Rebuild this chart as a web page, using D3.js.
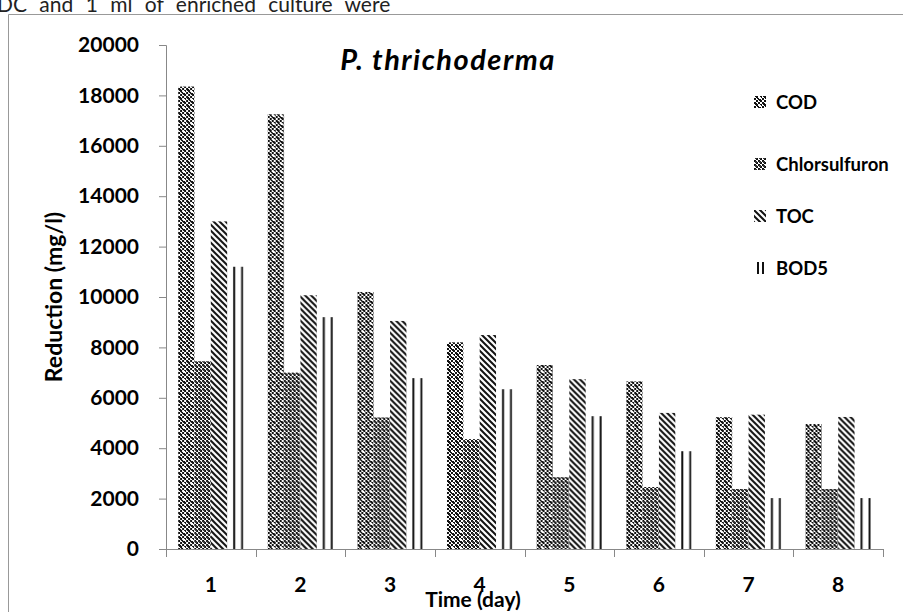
<!DOCTYPE html>
<html>
<head>
<meta charset="utf-8">
<script src="https://cdn.jsdelivr.net/npm/d3@7"></script>
<style>
  body { margin: 0; background: #fff; }
  svg { display: block; font-family: Lato, "Open Sans", sans-serif; }
</style>
</head>
<body>
<svg id="chart" width="903" height="612"></svg>
<script>
const days = ["1", "2", "3", "4", "5", "6", "7", "8"];
const series = ["COD", "Chlorsulfuron", "TOC", "BOD5"];
const cod = [18350, 17250, 10200, 8200, 7300, 6650, 5230, 4960];
const chlorsulfuron = [7450, 7000, 5220, 4360, 2850, 2460, 2380, 2380];
const toc = [13000, 10070, 9050, 8490, 6740, 5400, 5330, 5240];
const bod5 = [11200, 9200, 6780, 6340, 5270, 3880, 2020, 2020];
const yTicks = [0, 2000, 4000, 6000, 8000, 10000, 12000, 14000, 16000, 18000, 20000];

const values = { COD: cod, Chlorsulfuron: chlorsulfuron, TOC: toc, BOD5: bod5 };

const svg = d3.select("#chart");
const defs = svg.append("defs");

// COD: checker with white crosses
const pCod = defs.append("pattern").attr("id", "p-cod")
    .attr("patternUnits", "userSpaceOnUse").attr("width", 8).attr("height", 8);
pCod.append("rect").attr("width", 8).attr("height", 8).attr("fill", "#fff");
[[0,0],[2,2],[4,0],[6,2],[0,4],[2,6],[4,4],[6,6],[1,1],[5,5],[3,3],[7,7]].forEach(([x, y]) => {
    pCod.append("rect").attr("x", x).attr("y", y).attr("width", 2).attr("height", 2).attr("fill", "#111");
});
pCod.append("rect").attr("x", 5).attr("y", 2).attr("width", 1).attr("height", 3).attr("fill", "#fff");
pCod.append("rect").attr("x", 4).attr("y", 3).attr("width", 3).attr("height", 1).attr("fill", "#fff");

// Chlorsulfuron: plain fine checker, a bit darker
const pChl = defs.append("pattern").attr("id", "p-chl")
    .attr("patternUnits", "userSpaceOnUse").attr("width", 4).attr("height", 4);
pChl.append("rect").attr("width", 4).attr("height", 4).attr("fill", "#fff");
pChl.append("rect").attr("x", 0).attr("y", 0).attr("width", 2).attr("height", 2).attr("fill", "#111");
pChl.append("rect").attr("x", 2).attr("y", 2).attr("width", 2).attr("height", 2).attr("fill", "#111");
pChl.append("rect").attr("x", 1).attr("y", 1).attr("width", 2).attr("height", 2).attr("fill", "#333");

// TOC: wide downward diagonal
const pToc = defs.append("pattern").attr("id", "p-toc")
    .attr("patternUnits", "userSpaceOnUse").attr("width", 6).attr("height", 6);
pToc.append("rect").attr("width", 6).attr("height", 6).attr("fill", "#fff");
pToc.append("path").attr("d", "M-1,-1L7,7M-1,5L1,7M5,-1L7,1")
    .attr("stroke", "#111").attr("stroke-width", 2);

// BOD5: two vertical lines per bar
function bodPattern(id, a, b) {
    const p = defs.append("pattern").attr("id", id)
        .attr("patternUnits", "objectBoundingBox").attr("width", 1).attr("height", 1);
    p.append("rect").attr("width", 20).attr("height", 600).attr("fill", "#fff");
    p.append("rect").attr("x", a).attr("width", 2).attr("height", 600).attr("fill", "#111");
    p.append("rect").attr("x", b).attr("width", 2).attr("height", 600).attr("fill", "#111");
}
bodPattern("p-bod", 6, 14);
bodPattern("p-bod-leg", 3, 8);

const fills = { COD: "url(#p-cod)", Chlorsulfuron: "url(#p-chl)", TOC: "url(#p-toc)", BOD5: "url(#p-bod)" };
const legendFills = Object.assign({}, fills, { BOD5: "url(#p-bod-leg)" });

// text cut at top of page
svg.append("text").attr("x", -3).attr("y", 12)
    .attr("font-family", "Lato, sans-serif").attr("font-size", 21).attr("fill", "#222")
    .attr("word-spacing", 7)
    .text("DC and 1 ml of enriched culture were");

// chart frame
svg.append("path").attr("d", "M8.5,612V14.5H903")
    .attr("fill", "none").attr("stroke", "#999").attr("stroke-width", 1);

const x0 = d3.scaleBand().domain(days).range([166, 883]).paddingInner(0.27).paddingOuter(0.135);
const x1 = d3.scaleBand().domain(series).range([0, x0.bandwidth()]);
const y = d3.scaleLinear().domain([0, 20000]).range([549, 45]);

// bars
const groups = svg.append("g").selectAll("g").data(days).join("g")
    .attr("transform", d => `translate(${x0(d)},0)`);
groups.selectAll("rect")
    .data((d, i) => series.map(s => ({ s, v: values[s][i] })))
    .join("rect")
    .attr("x", d => x1(d.s))
    .attr("y", d => y(d.v))
    .attr("width", x1.bandwidth())
    .attr("height", d => y(0) - y(d.v))
    .attr("fill", d => fills[d.s]);

// y axis
const yAxis = svg.append("g").attr("transform", "translate(166,0)")
    .call(d3.axisLeft(y).tickValues(yTicks).tickSize(7).tickPadding(20).tickFormat(d3.format("d")));
yAxis.select(".domain").attr("stroke", "#888");
yAxis.selectAll(".tick line").attr("stroke", "#888");
yAxis.selectAll(".tick text").attr("font-size", 21).attr("font-weight", "bold")
    .attr("font-family", "Lato, sans-serif").attr("fill", "#000");

// x axis with ticks between categories
const xAxisG = svg.append("g").attr("class", "x-axis");
xAxisG.append("line").attr("x1", 166).attr("x2", 883).attr("y1", 549.5).attr("y2", 549.5).attr("stroke", "#888");
const bounds = days.map(d => x0(d) - x0.step() * x0.paddingOuter()).concat([883]);
xAxisG.selectAll("line.t").data(bounds).join("line").attr("class", "t")
    .attr("x1", d => Math.round(d) + 0.5).attr("x2", d => Math.round(d) + 0.5)
    .attr("y1", 549).attr("y2", 557).attr("stroke", "#888");
xAxisG.selectAll("text").data(days).join("text")
    .attr("x", d => x0(d) + x0.bandwidth() / 2)
    .attr("y", 592)
    .attr("text-anchor", "middle")
    .attr("font-size", 21).attr("font-weight", "bold")
    .text(d => d);

// axis titles
svg.append("text").attr("x", 473).attr("y", 607).attr("text-anchor", "middle")
    .attr("font-size", 21).attr("font-weight", "bold").text("Time (day)");
svg.append("text").attr("transform", "translate(62,297) rotate(-90)").attr("text-anchor", "middle")
    .attr("font-size", 23).attr("font-weight", "bold").text("Reduction (mg/l)");

// title
svg.append("text").attr("x", 448).attr("y", 70).attr("text-anchor", "middle")
    .attr("font-size", 29).attr("font-weight", "bold").attr("font-style", "italic")
    .attr("letter-spacing", 1.5)
    .text("P. thrichoderma");

// legend
const legendY = [102, 164, 216, 268];
const legend = svg.append("g").selectAll("g").data(series).join("g")
    .attr("transform", (d, i) => `translate(754,${legendY[i]})`);
legend.append("rect").attr("x", 0).attr("y", -6).attr("width", 12).attr("height", 12)
    .attr("fill", d => legendFills[d]);
legend.append("text").attr("x", 22).attr("y", 7)
    .attr("font-size", 18.5).attr("font-weight", "bold").text(d => d);
</script>
</body>
</html>
